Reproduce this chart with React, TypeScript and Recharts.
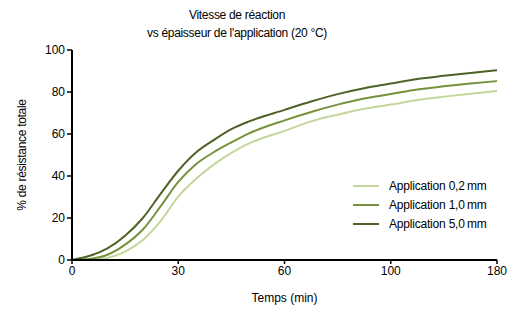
import { Line, LineChart, XAxis, YAxis } from 'recharts';

// x axis is not linear: each tick gets the same width
const X_BREAKS = [0, 30, 60, 100, 180];

const TIMES = [0, 5, 10, 15, 20, 25, 30, 35, 40, 45, 50, 60, 70, 80, 90, 100, 120, 140, 160, 180];
const APP_02 = [0, 0, 1, 4, 9.5, 18.5, 30.2, 38.6, 45.4, 51, 55.5, 61.5, 66, 69.2, 72, 74, 76.2, 77.8, 79.2, 80.5];
const APP_10 = [0, 0.5, 2.5, 7.3, 14.5, 25.5, 37.2, 45.6, 51.3, 56, 60.3, 66.5, 70.5, 74, 76.9, 79, 81.2, 82.7, 84, 85.2];
const APP_50 = [0, 2, 5.5, 11.5, 20, 31.5, 42.5, 51.2, 57.1, 62.3, 66, 71.5, 75.5, 79, 81.8, 84, 86.2, 87.7, 89.1, 90.4];

const Y_TICKS = [0, 20, 40, 60, 80, 100];

const SERIES = [
  { key: 'a', name: 'Application 0,2\u2009mm', color: '#c3d69b' },
  { key: 'b', name: 'Application 1,0\u2009mm', color: '#76923c' },
  { key: 'c', name: 'Application 5,0\u2009mm', color: '#4f6228' },
];

const FONT = '"Liberation Sans", Arial, sans-serif';

function toPos(t: number) {
  for (let i = 0; i < X_BREAKS.length - 1; i++) {
    const lo = X_BREAKS[i];
    const hi = X_BREAKS[i + 1];
    if (t <= hi) return i + (t - lo) / (hi - lo);
  }
  return X_BREAKS.length - 1;
}

const data = TIMES.map((t, i) => ({
  pos: toPos(t),
  a: APP_02[i],
  b: APP_10[i],
  c: APP_50[i],
}));

function LegendBox() {
  return (
    <div style={{ position: 'absolute', left: 353, top: 176, fontSize: 12, color: '#000' }}>
      {SERIES.map((s) => (
        <div key={s.key} style={{ display: 'flex', alignItems: 'center', height: 19 }}>
          <span style={{ display: 'inline-block', width: 26, height: 2, background: s.color, marginRight: 10 }} />
          <span style={{ letterSpacing: -0.2 }}>{s.name}</span>
        </div>
      ))}
    </div>
  );
}

export default function App() {
  return (
    <div style={{ position: 'absolute', left: 0, top: 0, width: 517, height: 309, background: '#fff', fontFamily: FONT }}>
      <div
        style={{
          position: 'absolute',
          left: 0,
          top: 6,
          width: 474,
          textAlign: 'center',
          fontSize: 12,
          lineHeight: '18px',
          color: '#000',
          letterSpacing: -0.3,
        }}>
        Vitesse de réaction
        <br />
        vs épaisseur de l'application (20 °C)
      </div>
      <LineChart width={517} height={309} data={data} margin={{ top: 50, right: 20, left: 0, bottom: 4 }}>
        <XAxis
          dataKey='pos'
          type='number'
          domain={[0, X_BREAKS.length - 1]}
          ticks={X_BREAKS.map((_, i) => i)}
          tickFormatter={(i: number) => String(X_BREAKS[i])}
          height={45}
          axisLine={{ stroke: '#000', strokeWidth: 2 }}
          tickLine={{ stroke: '#000', strokeWidth: 1.5 }}
          tickSize={4}
          tick={{ fontSize: 12, fill: '#000', fontFamily: FONT }}
          label={{ value: 'Temps (min)', position: 'insideBottom', offset: 3, fontSize: 12, fill: '#000', fontFamily: FONT }}
        />
        <YAxis
          type='number'
          domain={[0, 100]}
          ticks={Y_TICKS}
          width={72}
          axisLine={{ stroke: '#000', strokeWidth: 2 }}
          tickLine={{ stroke: '#000', strokeWidth: 1.5 }}
          tickSize={5}
          tick={{ fontSize: 12, fill: '#000', fontFamily: FONT }}
          label={{
            value: '% de résistance totale',
            angle: -90,
            position: 'insideLeft',
            offset: 22,
            style: { textAnchor: 'middle', fontSize: 12, fill: '#000', fontFamily: FONT, letterSpacing: -0.3 },
          }}
        />
        {SERIES.map((s) => (
          <Line
            key={s.key}
            type='monotone'
            dataKey={s.key}
            name={s.name}
            stroke={s.color}
            strokeWidth={2}
            dot={false}
            isAnimationActive={false}
          />
        ))}
      </LineChart>
      <LegendBox />
    </div>
  );
}
